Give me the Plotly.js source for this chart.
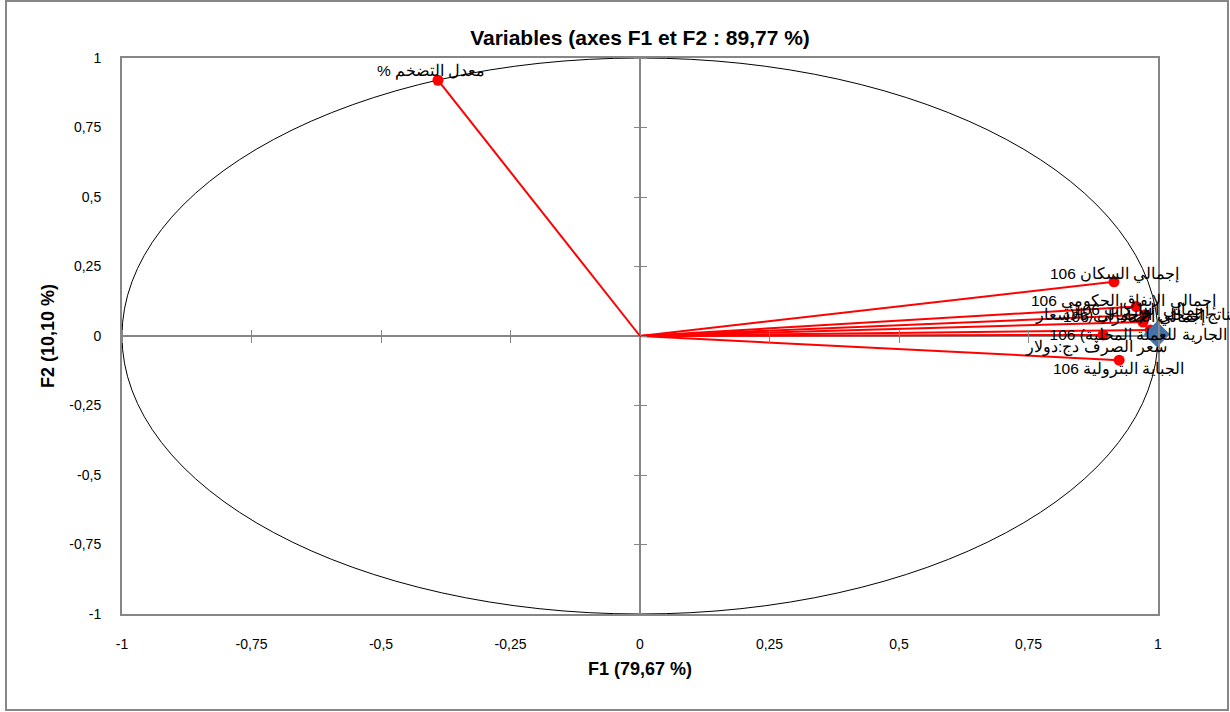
<!DOCTYPE html>
<html><head><meta charset="utf-8">
<script src="https://cdn.plot.ly/plotly-3.0.1.min.js"></script>
<style>html,body{margin:0;padding:0;background:#fff}#c{width:1230px;height:712px}</style>
</head><body><div id="c"></div>
<script>
// Active variables and their coordinates on F1 / F2
const varNames = [
  "معدل التضخم %\u200F",
  "إجمالي السكان 106",
  "إجمالي الإنفاق الحكومي 106",
  "إجمالي الواردات 106",
  "إجمالي الصادرات 106",
  "الناتج المحلي الإجمالي (بالأسعار<br>الجارية للعملة المحلية) 106",
  "سعر الصرف دج:دولار",
  "الجباية البترولية 106"
];
const f1 = [-0.39, 0.915, 0.958, 0.975, 0.971, 0.985, 0.894, 0.925];
const f2 = [0.92, 0.195, 0.106, 0.076, 0.050, 0.022, 0.004, -0.087];
// supplementary point
const supF1 = [0.998];
const supF2 = [0.006];

// label offsets in pixels (style only)
const labelDX = [-7, 1, -13, -3, -8, -13, -7, 0];
const labelDY = [9, 8, 6, 5, 5, 5, -12, -9];

const lx = [], ly = [];
for (let i = 0; i < f1.length; i++) { lx.push(0, f1[i], null); ly.push(0, f2[i], null); }

const FONT = "Liberation Sans, Arial, sans-serif";
const grey = "#868686";
const traces = [
  {x: lx, y: ly, mode: "lines", line: {color: "#FF0000", width: 2}, hoverinfo: "skip", showlegend: false},
  {x: f1, y: f2, mode: "markers", marker: {size: 11, color: "#FF0000"}, showlegend: false, cliponaxis: false},
  {x: supF1, y: supF2, mode: "markers", marker: {symbol: "diamond", size: 20, color: "#4472A8", line: {width: 0}},
   showlegend: false, cliponaxis: false}
];

const annotations = varNames.map((t, i) => ({
  x: f1[i], y: f2[i], xref: "x", yref: "y", text: t, showarrow: false,
  xanchor: "center", yanchor: "middle", xshift: labelDX[i], yshift: labelDY[i],
  font: {family: FONT, size: 15.5, color: "#000"}, align: "center"
}));

const tickVals = [-1, -0.75, -0.5, -0.25, 0, 0.25, 0.5, 0.75, 1];
const tickText = ["-1", "-0,75", "-0,5", "-0,25", "0", "0,25", "0,5", "0,75", "1"];

const tickAxis = (extra) => Object.assign({
  range: [-1, 1], tickvals: tickVals, ticks: "outside", ticklen: 6, tickwidth: 1, tickcolor: grey,
  showticklabels: false, showgrid: false, zeroline: false, showline: false, fixedrange: true
}, extra);

const layout = {
  width: 1230, height: 712,
  margin: {l: 122, r: 72, t: 58, b: 98},
  paper_bgcolor: "#fff", plot_bgcolor: "#fff",
  font: {family: FONT, size: 14, color: "#000"},
  title: {text: "<b>Variables (axes F1 et F2 : 89,77 %)</b>", x: 0.5, xref: "paper",
          y: 1 - 38 / 712, yref: "container", yanchor: "middle",
          font: {family: FONT, size: 21, color: "#000"}},
  xaxis: {range: [-1, 1], tickvals: tickVals, ticktext: tickText, ticks: "", showgrid: false,
          zeroline: true, zerolinecolor: grey, zerolinewidth: 2,
          showline: true, linecolor: grey, linewidth: 2, mirror: true, ticklabelstandoff: 16,
          tickfont: {family: FONT, size: 14}, fixedrange: true,
          title: {text: "<b>F1 (79,67 %)</b>", standoff: 12, font: {family: FONT, size: 18}}},
  yaxis: {range: [-1, 1], tickvals: tickVals, ticktext: tickText, ticks: "", showgrid: false,
          zeroline: true, zerolinecolor: grey, zerolinewidth: 2,
          showline: true, linecolor: grey, linewidth: 2, mirror: true, ticklabelstandoff: 16,
          tickfont: {family: FONT, size: 14}, fixedrange: true,
          title: {text: "<b>F2 (10,10 %)</b>", standoff: 10, font: {family: FONT, size: 18}}},
  xaxis2: tickAxis({overlaying: "x", anchor: "free", position: 0.5, side: "bottom"}),
  xaxis3: tickAxis({overlaying: "x", anchor: "free", position: 0.5, side: "top"}),
  yaxis2: tickAxis({overlaying: "y", anchor: "free", position: 0.5, side: "left"}),
  yaxis3: tickAxis({overlaying: "y", anchor: "free", position: 0.5, side: "right"}),
  annotations: annotations,
  shapes: [
    {type: "circle", xref: "x", yref: "y", x0: -1, x1: 1, y0: -1, y1: 1, line: {color: "#000", width: 1}, layer: "below"},
    {type: "rect", xref: "paper", yref: "paper", x0: (6 - 122) / 1036, x1: (1228 - 122) / 1036,
     y0: (614 - 710) / 556, y1: (614 - 1) / 556, line: {color: grey, width: 2}, fillcolor: "rgba(0,0,0,0)"}
  ]
};

// empty traces so the crossing tick axes render
traces.push({x: [null], y: [null], xaxis: "x2", yaxis: "y2", showlegend: false, hoverinfo: "skip"});
traces.push({x: [null], y: [null], xaxis: "x3", yaxis: "y3", showlegend: false, hoverinfo: "skip"});

Plotly.newPlot("c", traces, layout, {displayModeBar: false, staticPlot: true});
</script></body></html>
